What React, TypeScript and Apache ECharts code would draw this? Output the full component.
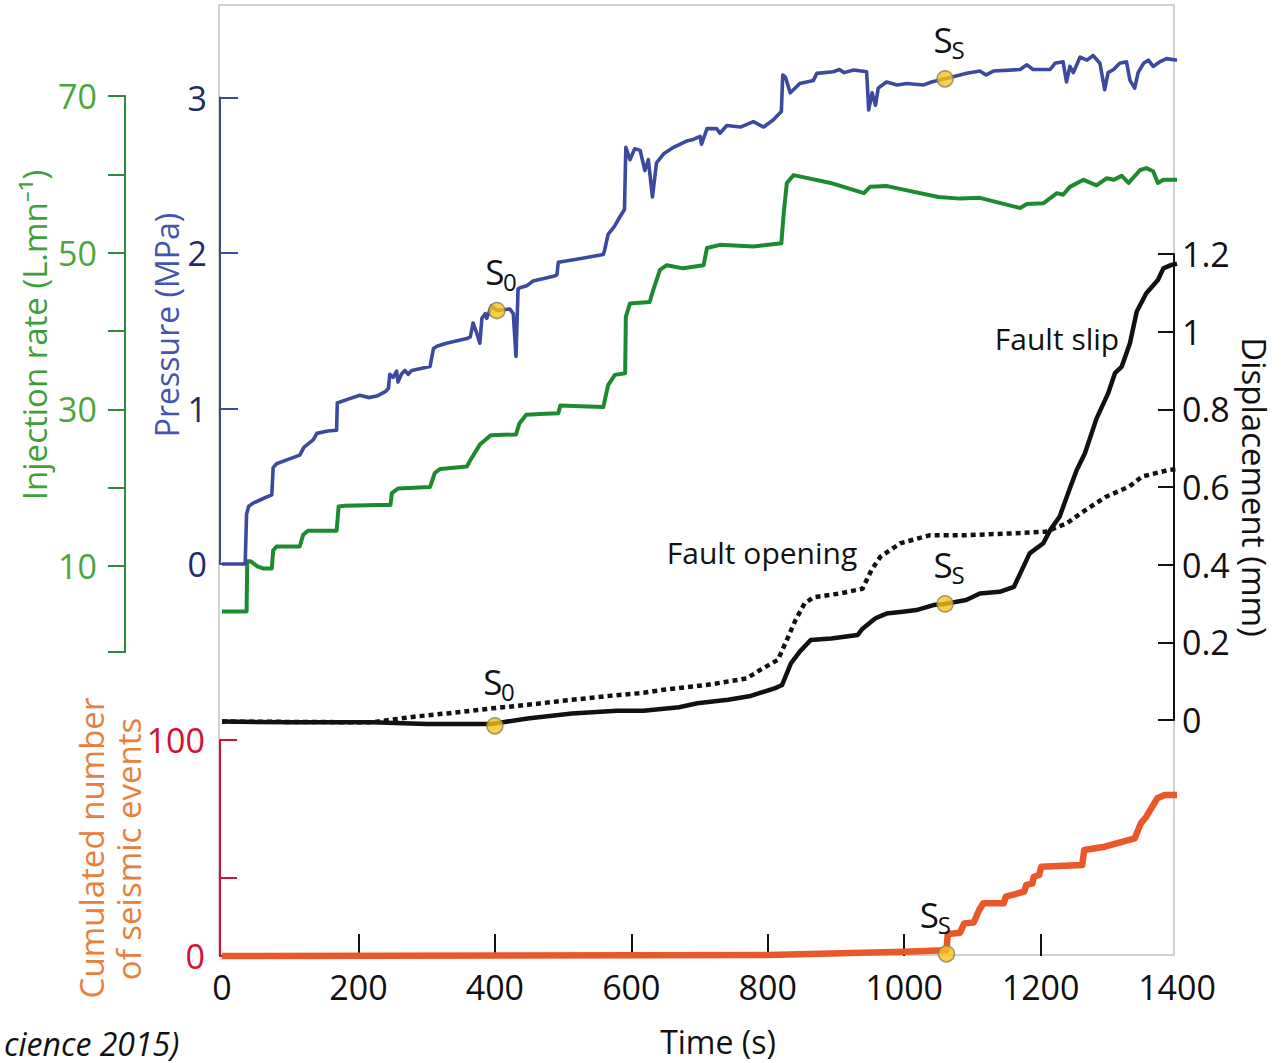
import React, { useEffect, useRef } from "react";
import * as echarts from "echarts";

// ---------- data ----------
const timeTickValues = [200, 400, 600, 800, 1000, 1200];
const injectionTickValues = [-1, 10, 20, 30, 40, 50, 60, 70];
const injectionLabelValues = [10, 30, 50, 70];
const seismicTickValues = [0, 36, 100];
const seismicLabelValues = [0, 100];

const pressure: number[][] = [
  [0, 0], [34, 0], [36, 0.32], [39, 0.37], [45, 0.39], [55, 0.41], [65, 0.43], [73, 0.445], [75, 0.62], [80, 0.645],
  [95, 0.67], [114, 0.7], [120, 0.75], [134, 0.8], [139, 0.84], [155, 0.855], [168, 0.86], [169, 1.035], [185, 1.06],
  [202, 1.085], [215, 1.07], [227, 1.08], [240, 1.11], [244, 1.13], [246, 1.22], [251, 1.2], [256, 1.24], [258, 1.17],
  [263, 1.22], [268, 1.245], [273, 1.22], [278, 1.245], [305, 1.27], [310, 1.386], [315, 1.4], [329, 1.42], [359, 1.45],
  [364, 1.46], [368, 1.55], [373, 1.49], [378, 1.42], [381, 1.58], [386, 1.61], [388, 1.58], [395, 1.66], [403, 1.63],
  [422, 1.64], [427, 1.61], [431, 1.335], [434, 1.77], [439, 1.78], [447, 1.79], [456, 1.82], [486, 1.85], [491, 1.86],
  [493, 1.94], [520, 1.96], [559, 1.99], [561, 2.02], [566, 2.12], [575, 2.17], [583, 2.23], [590, 2.28], [592, 2.68],
  [598, 2.6], [605, 2.67], [613, 2.66], [620, 2.53], [625, 2.6], [631, 2.36], [637, 2.58], [648, 2.64], [662, 2.68],
  [681, 2.72], [691, 2.73], [701, 2.75], [703, 2.7], [711, 2.8], [725, 2.8], [730, 2.77], [740, 2.82], [760, 2.81],
  [779, 2.845], [794, 2.81], [808, 2.855], [820, 2.91], [822, 3.145], [826, 3.13], [833, 3.03], [840, 3.06], [847, 3.09],
  [867, 3.11], [872, 3.155], [896, 3.166], [905, 3.18], [912, 3.16], [926, 3.177], [945, 3.166], [948, 2.92], [953, 3.03],
  [958, 2.95], [962, 3.06], [974, 3.1], [990, 3.08], [1004, 3.09], [1028, 3.08], [1040, 3.1], [1060, 3.12], [1092, 3.156],
  [1111, 3.17], [1120, 3.145], [1131, 3.17], [1170, 3.18], [1180, 3.21], [1189, 3.18], [1214, 3.18], [1221, 3.22],
  [1233, 3.23], [1238, 3.1], [1243, 3.2], [1248, 3.16], [1258, 3.26], [1268, 3.24], [1277, 3.27], [1287, 3.22],
  [1294, 3.05], [1299, 3.16], [1307, 3.18], [1316, 3.22], [1326, 3.23], [1331, 3.11], [1338, 3.06], [1343, 3.16],
  [1351, 3.22], [1358, 3.24], [1365, 3.2], [1375, 3.23], [1385, 3.25], [1400, 3.24],
];

const injection: number[][] = [
  [0, 4.2], [36, 4.2], [37, 10.6], [42, 10.6], [51, 10.0], [60, 9.7], [73, 9.7], [75, 12.0], [80, 12.5], [114, 12.5],
  [119, 14.0], [126, 14.5], [168, 14.5], [171, 17.6], [180, 17.7], [230, 17.8], [247, 17.8], [249, 19.3], [258, 19.9],
  [305, 20.1], [312, 21.9], [320, 22.4], [359, 22.7], [364, 23.5], [378, 25.5], [394, 26.7], [431, 26.8], [436, 28.2],
  [446, 29.3], [466, 29.4], [493, 29.5], [496, 30.5], [525, 30.4], [559, 30.3], [566, 33.1], [576, 34.4], [591, 34.6],
  [592, 41.8], [598, 43.5], [627, 43.7], [632, 45.2], [642, 47.8], [652, 48.4], [676, 48.0], [706, 48.4], [711, 50.6],
  [730, 51.0], [779, 50.8], [820, 51.2], [823, 54.6], [828, 58.9], [838, 59.9], [892, 58.9], [941, 57.6], [950, 58.4],
  [975, 58.5], [1050, 57.1], [1082, 56.9], [1111, 57.0], [1170, 55.7], [1180, 56.2], [1204, 56.3], [1224, 57.6],
  [1233, 57.4], [1243, 58.4], [1263, 59.3], [1282, 58.6], [1297, 59.5], [1307, 59.3], [1319, 59.8], [1329, 58.9],
  [1346, 60.55], [1355, 60.8], [1365, 60.4], [1372, 58.9], [1380, 59.3], [1400, 59.3],
];

const faultSlip: number[][] = [
  [0, -0.004], [100, -0.006], [219, -0.006], [300, -0.01], [396, -0.01], [448, 0.004], [513, 0.017], [579, 0.024],
  [618, 0.024], [670, 0.033], [697, 0.043], [742, 0.052], [775, 0.062], [811, 0.082], [821, 0.09], [834, 0.146],
  [847, 0.176], [863, 0.206], [893, 0.21], [932, 0.219], [939, 0.235], [958, 0.262], [974, 0.274], [998, 0.279],
  [1018, 0.283], [1043, 0.296], [1060, 0.299], [1091, 0.309], [1111, 0.326], [1140, 0.33], [1161, 0.343], [1184, 0.429],
  [1204, 0.455], [1214, 0.489], [1228, 0.524], [1243, 0.597], [1253, 0.644], [1265, 0.687], [1282, 0.776], [1299, 0.841],
  [1309, 0.893], [1319, 0.91], [1331, 0.97], [1341, 1.052], [1355, 1.099], [1372, 1.133], [1380, 1.163], [1392, 1.172],
  [1400, 1.175],
];

const faultOpening: number[][] = [
  [0, -0.004], [219, -0.006], [284, 0.009], [330, 0.017], [396, 0.03], [448, 0.039], [513, 0.052], [579, 0.064],
  [618, 0.07], [644, 0.077], [710, 0.09], [769, 0.107], [789, 0.129], [815, 0.155], [828, 0.206], [841, 0.258],
  [854, 0.3], [867, 0.316], [906, 0.326], [939, 0.338], [952, 0.386], [965, 0.42], [994, 0.455], [1038, 0.476],
  [1091, 0.476], [1164, 0.481], [1208, 0.485], [1238, 0.506], [1262, 0.536], [1296, 0.575], [1330, 0.601],
  [1349, 0.627], [1388, 0.644], [1400, 0.646],
];

const seismic: number[][] = [
  [0, 0], [800, 0.5], [1000, 2.0], [1052, 2.5], [1062, 2.5], [1064, 10.2], [1082, 10.8], [1088, 15.1], [1102, 15.5],
  [1110, 21.3], [1116, 24.4], [1146, 24.4], [1149, 27.5], [1176, 29.8], [1179, 32.9], [1188, 33.5], [1190, 36.7],
  [1198, 37.5], [1201, 41.3], [1261, 42.1], [1264, 49.1], [1294, 50.6], [1338, 54.5], [1347, 61.4], [1355, 64.5],
  [1371, 73.0], [1382, 74.5], [1400, 74.5],
];

// event markers: [time, value]
const pressureEvents: number[][] = [[403, 1.63], [1060, 3.12]];
const displacementEvents: number[][] = [[400, -0.015], [1060, 0.299]];
const seismicEvents: number[][] = [[1062, 1]];
const pressureEventSubs = ["0", "S"];
const displacementEventSubs = ["0", "S"];
const seismicEventSubs = ["S"];

// ---------- styles ----------
const NUM_FONT = "'Open Sans', 'Noto Sans', sans-serif";
const TXT_FONT = "'Open Sans', 'Noto Sans', sans-serif";
const NUM_SIZE = 34;
const C_PRESS = "#3b4a9e";
const C_PRESS_LBL = "#1d2a6b";
const C_PRESS_NAME = "#4455b0";
const C_INJ = "#1e8a30";
const C_INJ_AXIS = "#2e8b3a";
const C_INJ_LBL = "#4aa63b";
const C_SEIS = "#e8582a";
const C_SEIS_AXIS = "#d31130";
const C_SEIS_NAME = "#e8803c";
const C_MARK = "#f7c31b";

const GRID_LEFT = 222;
const GRID_W = 955;

function buildOption(): any {
  const hiddenX = (i: number) => ({
    gridIndex: i, type: "value", min: 0, max: 1400, show: false,
  });
  const markerSeries = (axis: number, data: number[][]) => ({
    type: "scatter", xAxisIndex: axis, yAxisIndex: axis, data, symbol: "circle", symbolSize: 16, z: 10,
    clip: false,
    itemStyle: { color: C_MARK, borderColor: "#8c7d5c", borderWidth: 1.5 },
  });
  const lineSeries = (axis: number, data: number[][], color: string, width: number, type: any = "solid") => ({
    type: "line", xAxisIndex: axis, yAxisIndex: axis, data, showSymbol: false, symbol: "none", clip: false,
    lineStyle: { color, width, type, join: "round", cap: "butt" }, z: 3,
  });
  return {
    animation: false,
    backgroundColor: "#ffffff",
    grid: [
      { left: GRID_LEFT, width: GRID_W, top: 97.5, height: 466.5 },
      { left: GRID_LEFT, width: GRID_W, top: 96, height: 556.2 },
      { left: GRID_LEFT, width: GRID_W, top: 254, height: 466 },
      { left: GRID_LEFT, width: GRID_W, top: 740, height: 216 },
    ],
    xAxis: [
      hiddenX(0), hiddenX(1), hiddenX(2),
      {
        gridIndex: 3, type: "value", min: 0, max: 1400, interval: 200,
        axisLine: { show: false, onZero: false },
        axisTick: { show: true, inside: true, length: 22, lineStyle: { color: "#111", width: 2 }, customValues: timeTickValues },
        axisLabel: { margin: 14, color: "#111", fontSize: NUM_SIZE, fontFamily: NUM_FONT, formatter: (v: number) => String(v) },
        splitLine: { show: false },
      },
    ],
    yAxis: [
      {
        gridIndex: 0, type: "value", min: 0, max: 3, interval: 1, position: "left", offset: 2,
        axisLine: { show: true, onZero: false, lineStyle: { color: C_PRESS, width: 2 } },
        axisTick: { show: true, inside: true, length: 18, lineStyle: { color: C_PRESS, width: 2 } },
        axisLabel: { margin: 13, color: C_PRESS_LBL, fontSize: NUM_SIZE, fontFamily: NUM_FONT },
        splitLine: { show: false },
      },
      {
        gridIndex: 1, type: "value", min: -1, max: 70, position: "left", offset: 97,
        axisLine: { show: true, onZero: false, lineStyle: { color: C_INJ_AXIS, width: 2 } },
        axisTick: { show: true, inside: false, length: 17, lineStyle: { color: C_INJ_AXIS, width: 2 }, customValues: injectionTickValues },
        axisLabel: { margin: 28, color: C_INJ_LBL, fontSize: NUM_SIZE, fontFamily: NUM_FONT, customValues: injectionLabelValues },
        splitLine: { show: false },
      },
      {
        gridIndex: 2, type: "value", min: 0, max: 1.2, interval: 0.2, position: "right", offset: -3,
        axisLine: { show: true, onZero: false, lineStyle: { color: "#111", width: 2 } },
        axisTick: { show: true, inside: true, length: 16, lineStyle: { color: "#111", width: 2 } },
        axisLabel: {
          margin: 8, color: "#111", fontSize: NUM_SIZE, fontFamily: NUM_FONT,
          formatter: (v: number) => String(Math.round(v * 10) / 10),
        },
        splitLine: { show: false },
      },
      {
        gridIndex: 3, type: "value", min: 0, max: 100, position: "left", offset: 2,
        axisLine: { show: true, onZero: false, lineStyle: { color: C_SEIS_AXIS, width: 2 } },
        axisTick: { show: true, inside: true, length: 17, lineStyle: { color: C_SEIS_AXIS, width: 2 }, customValues: seismicTickValues },
        axisLabel: { margin: 15, color: C_SEIS_AXIS, fontSize: NUM_SIZE, fontFamily: NUM_FONT, customValues: seismicLabelValues },
        splitLine: { show: false },
      },
    ],
    series: [
      lineSeries(1, injection, C_INJ, 4),
      lineSeries(0, pressure, C_PRESS, 3.6),
      lineSeries(2, faultOpening, "#111", 4.5, [5, 4]),
      lineSeries(2, faultSlip, "#111", 4.5),
      lineSeries(3, seismic, C_SEIS, 6.5),
      markerSeries(0, pressureEvents),
      markerSeries(2, displacementEvents),
      markerSeries(3, seismicEvents),
    ],
  };
}

function txt(x: number, y: number, text: string, size: number, fill: string, rotation = 0, align = "center", italic = false): any {
  const font = `${italic ? "italic " : ""}${size}px ${TXT_FONT}`;
  return {
    type: "text", x, y, rotation, z: 20,
    style: {
      text, fill, font,
      textAlign: align, textVerticalAlign: "middle", align, verticalAlign: "middle",
    },
  };
}

export default function App() {
  const ref = useRef<HTMLDivElement>(null);
  useEffect(() => {
    const chart = echarts.init(ref.current!, undefined, { renderer: "svg", width: 1288, height: 1063 });
    chart.setOption(buildOption());

    const elements: any[] = [
      {
        type: "rect", z: -10, silent: true,
        shape: { x: 219, y: 5, width: 955, height: 950 },
        style: { fill: "none", stroke: "#d2d2d2", lineWidth: 2 },
      },
      txt(34, 335, "Injection rate (L.mn⁻¹)", 33, "#3f9f3b", Math.PI / 2),
      txt(166, 325, "Pressure (MPa)", 32, C_PRESS_NAME, Math.PI / 2),
      txt(1254, 487, "Displacement (mm)", 33, "#111", -Math.PI / 2),
      txt(91, 848, "Cumulated number", 33, C_SEIS_NAME, Math.PI / 2),
      txt(128, 849, "of seismic events", 33, C_SEIS_NAME, Math.PI / 2),
      txt(718, 1041, "Time (s)", 32, "#111"),
      txt(762, 552, "Fault opening", 30, "#111"),
      txt(1057, 338, "Fault slip", 30, "#111"),
      txt(4, 1043, "cience 2015)", 32, "#111", 0, "left", true),
    ];

    // S labels anchored on event markers
    const addEventLabels = (axis: number, events: number[][], subs: string[], shifts: number[]) => {
      events.forEach((ev, i) => {
        const p = chart.convertToPixel({ xAxisIndex: axis, yAxisIndex: axis } as any, ev) as number[];
        const dx = shifts[i] || 0;
        const dy = axis === 2 && i === 0 ? -5 : 0;
        elements.push(txt(p[0] - 2 + dx, p[1] - 39 + dy, "S", 35, "#111"));
        elements.push(txt(p[0] + 13 + dx, p[1] - 29 + dy, subs[i], 24, "#111"));
      });
    };
    addEventLabels(0, pressureEvents, pressureEventSubs, [0, 0]);
    addEventLabels(2, displacementEvents, displacementEventSubs, [0, 0]);
    addEventLabels(3, seismicEvents, seismicEventSubs, [-15]);

    chart.setOption({ graphic: { elements } });
    return () => chart.dispose();
  }, []);
  return <div ref={ref} style={{ position: "absolute", left: 0, top: 0, width: 1288, height: 1063 }} />;
}
